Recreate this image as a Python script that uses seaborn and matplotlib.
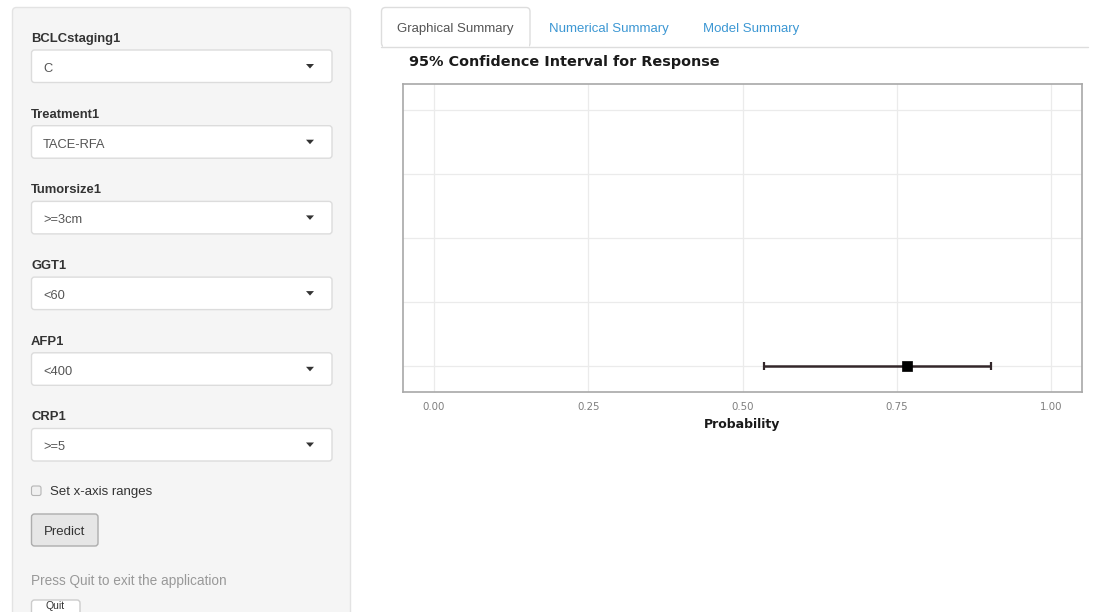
import numpy as np
import pandas as pd
import matplotlib
matplotlib.use("Agg")
import matplotlib.pyplot as plt
import seaborn as sns
from matplotlib.patches import FancyBboxPatch, Rectangle, Polygon

# ---------------- data ----------------
response = ["Response"]
prob_estimate = [0.767]
prob_lower = [0.535]
prob_upper = [0.903]
x_ticks = [0.00, 0.25, 0.50, 0.75, 1.00]
x_tick_labels = ["0.00", "0.25", "0.50", "0.75", "1.00"]
y_ticks = [0, 1, 2, 3, 4]
row_position = [0]

input_labels = ["BCLCstaging1", "Treatment1", "Tumorsize1", "GGT1", "AFP1", "CRP1"]
input_values = ["C", "TACE-RFA", ">=3cm", "<60", "<400", ">=5"]
tab_labels = ["Graphical Summary", "Numerical Summary", "Model Summary"]

df = pd.DataFrame({"response": response, "estimate": prob_estimate,
                   "lower": prob_lower, "upper": prob_upper, "row": row_position})

# ---------------- figure ----------------
sns.set_style("white")
plt.rcParams["font.family"] = ["DejaVu Sans"]
W, H = 1093, 612
fig = plt.figure(figsize=(W / 100, H / 100), dpi=100)
fig.patch.set_facecolor("white")

ui = fig.add_axes([0, 0, 1, 1])
ui.set_xlim(0, W)
ui.set_ylim(H, 0)
ui.axis("off")
ui.set_zorder(0)

SF = "Liberation Sans"

# sidebar well
ui.add_patch(FancyBboxPatch((12.5, 7.5), 338, 640, boxstyle="round,pad=0,rounding_size=4",
                            facecolor="#f5f5f5", edgecolor="#e3e3e3", linewidth=1))

step = 75.7
for i, (lab, val) in enumerate(zip(input_labels, input_values)):
    base = 42 + step * i
    ui.text(31, base, lab, fontsize=9.4, fontweight="bold", color="#333333",
            family=SF, va="baseline", ha="left")
    top = 50 + step * i
    ui.add_patch(FancyBboxPatch((31.5, top), 300.5, 32.5, boxstyle="round,pad=0,rounding_size=3",
                                facecolor="white", edgecolor="#dcdcdc", linewidth=1))
    ui.text(43, top + 22, val, fontsize=9.3, color="#555555", family=SF,
            va="baseline", ha="left")
    cy = top + 16
    ui.add_patch(Polygon([[306, cy - 2], [314, cy - 2], [310, cy + 2.5]], closed=True,
                         facecolor="#333333", edgecolor="none"))

# checkbox
ui.add_patch(FancyBboxPatch((31.5, 486), 9.5, 9.5, boxstyle="round,pad=0,rounding_size=2",
                            facecolor="#f0f0f0", edgecolor="#b5b5b5", linewidth=0.8))
ui.text(50, 495, "Set x-axis ranges", fontsize=9.5, color="#333333", family=SF,
        va="baseline", ha="left")

# predict button
ui.add_patch(FancyBboxPatch((31.5, 514), 66.5, 32, boxstyle="round,pad=0,rounding_size=3",
                            facecolor="#e6e6e6", edgecolor="#adadad", linewidth=1))
ui.text(64.5, 535, "Predict", fontsize=9.5, color="#333333", family=SF,
        va="baseline", ha="center")

ui.text(31, 585, "Press Quit to exit the application", fontsize=9.8, color="#999999",
        family=SF, va="baseline", ha="left")
ui.add_patch(FancyBboxPatch((31.5, 600), 48.5, 40, boxstyle="round,pad=0,rounding_size=3",
                            facecolor="white", edgecolor="#cccccc", linewidth=1))
ui.text(55.5, 609, "Quit", fontsize=7.5, color="#333333", family=SF,
        va="baseline", ha="center")

# tabs
ui.plot([381, 1088], [46.5, 46.5], color="#dddddd", lw=1)
ui.add_patch(FancyBboxPatch((381.5, 7.5), 148.5, 39.5, boxstyle="round,pad=0,rounding_size=4",
                            facecolor="white", edgecolor="#dddddd", linewidth=1))
ui.add_patch(Rectangle((382.5, 40), 146.5, 8, facecolor="white", edgecolor="none"))
tab_x = [455.5, 608.5, 751]
tab_col = ["#555555", "#3c97d3", "#3c97d3"]
for t, x, c in zip(tab_labels, tab_x, tab_col):
    ui.text(x, 32, t, fontsize=9.5, color=c, family=SF, va="baseline", ha="center")

# title
ui.text(409, 66, "95% Confidence Interval for Response", fontsize=10.4, fontweight="bold",
        color="#1a1a1a", va="baseline", ha="left", family="DejaVu Sans")

# ---------------- plot ----------------
ax = fig.add_axes([403 / W, 1 - 392 / H, (1082 - 403) / W, (392 - 84) / H])
ax.set_zorder(2)
ax.set_facecolor("white")
ax.set_xlim(-0.05, 1.05)
ax.set_ylim(-0.415, 4.415)
ax.set_xticks(x_ticks)
ax.set_xticklabels(x_tick_labels)
ax.set_yticks(y_ticks)
ax.set_yticklabels([""] * len(y_ticks))
ax.grid(True, color="#ebebeb", linewidth=0.9)
ax.set_axisbelow(True)
for s in ax.spines.values():
    s.set_color("#a8a8a8")
    s.set_linewidth(1.2)
ax.tick_params(axis="both", length=2.5, width=0.9, color="#a0a0a0", direction="out",
               labelsize=7.4, labelcolor="#7f7f7f", pad=5)

ax.errorbar(df["estimate"], df["row"],
            xerr=[df["estimate"] - df["lower"], df["upper"] - df["estimate"]],
            fmt="none", ecolor="#33272a", elinewidth=1.8, capsize=3, capthick=1.6, zorder=3)
sns.scatterplot(data=df, x="estimate", y="row", marker="s", s=52, color="black",
                edgecolor="black", linewidth=0.5, ax=ax, zorder=4, legend=False)
ax.set_xlabel("Probability", fontsize=9, fontweight="bold", color="#1a1a1a", labelpad=4)
ax.set_ylabel("")

fig.savefig("out.png", dpi=100, facecolor="white")
